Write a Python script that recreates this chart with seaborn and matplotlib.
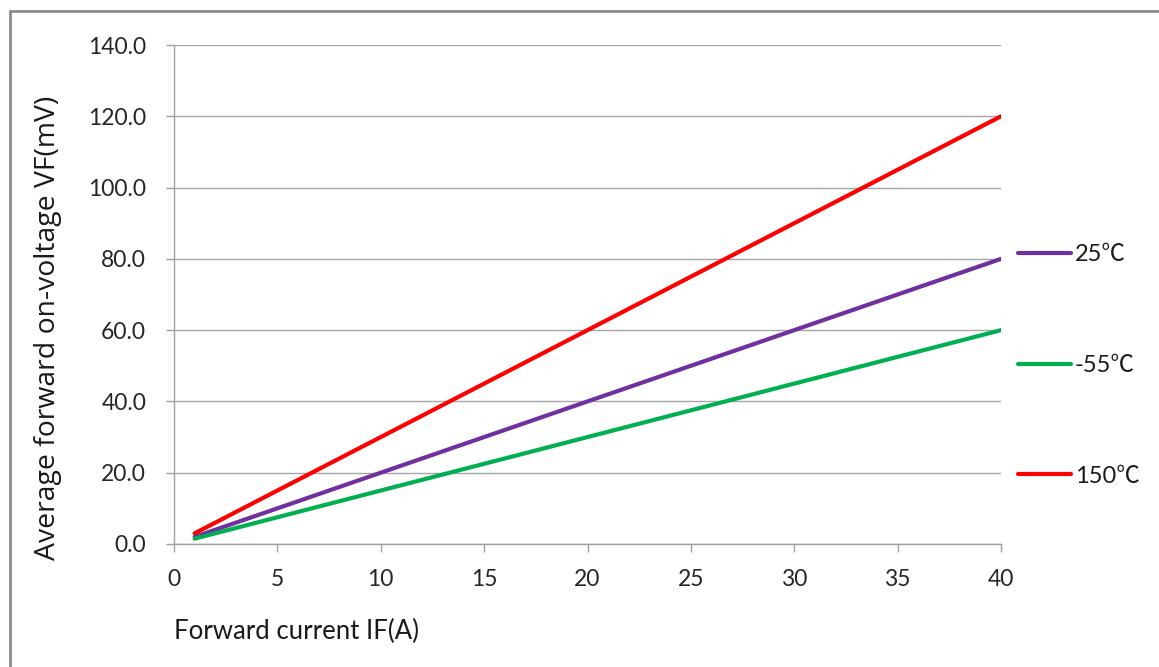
import matplotlib
matplotlib.use("Agg")
import matplotlib.pyplot as plt
from matplotlib.lines import Line2D
import seaborn as sns
import pandas as pd

# Forward current (A) sample points
current_a = [1, 5, 10, 15, 20, 25, 30, 35, 40]
# Average forward on-voltage (mV) per junction temperature
vf_25c = [2.0, 10.0, 20.0, 30.0, 40.0, 50.0, 60.0, 70.0, 80.0]
vf_m55c = [1.5, 7.5, 15.0, 22.5, 30.0, 37.5, 45.0, 52.5, 60.0]
vf_150c = [3.0, 15.0, 30.0, 45.0, 60.0, 75.0, 90.0, 105.0, 120.0]

series_names = ["25℃", "-55℃", "150℃"]
series_colors = ["#7030A0", "#00B050", "#FF0000"]
x_ticks = [0, 5, 10, 15, 20, 25, 30, 35, 40]
y_ticks = [0, 20, 40, 60, 80, 100, 120, 140]

df = pd.concat([
    pd.DataFrame({"IF": current_a, "VF": vals, "temp": name})
    for name, vals in zip(series_names, [vf_25c, vf_m55c, vf_150c])
])

sns.set_theme(style="white")
plt.rcParams["font.family"] = ["Lato", "Noto Sans CJK SC", "DejaVu Sans"]

fig = plt.figure(figsize=(11.59, 6.67), dpi=100)
ax = fig.add_axes([174 / 1159, 1 - 544 / 667, 827 / 1159, 499 / 667])

sns.lineplot(data=df, x="IF", y="VF", hue="temp", hue_order=series_names,
             palette=series_colors, linewidth=3.0, ax=ax, legend=True)

ax.set_xlim(0, 40)
ax.set_ylim(0, 140)
ax.set_xticks(x_ticks)
ax.set_yticks(y_ticks)
ax.set_yticklabels([f"{v:.1f}" for v in y_ticks])
ax.tick_params(axis="both", which="both", labelsize=16.5, colors="#262626",
               length=6, width=1, direction="out", bottom=True, left=True)
ax.tick_params(axis="x", pad=12, color="#a0a0a0")
ax.tick_params(axis="y", pad=14, color="#a0a0a0")

ax.grid(axis="y", color="#a6a6a6", linewidth=1)
ax.set_axisbelow(True)
for side in ["top", "right"]:
    ax.spines[side].set_visible(False)
for side in ["left", "bottom"]:
    ax.spines[side].set_color("#a0a0a0")
    ax.spines[side].set_linewidth(1)

ax.set_xlabel("Forward current IF(A)", fontsize=18.5, color="#1a1a1a", loc="left")
ax.xaxis.set_label_coords(0, -0.150)
ax.set_ylabel("Average forward on-voltage VF(mV)", fontsize=20.4, color="#1a1a1a",
              family=["Open Sans", "DejaVu Sans"])
ax.yaxis.set_label_coords(-0.135, 0.433)

leg = ax.legend(loc="upper left", bbox_to_anchor=(1.0095, 0.62), frameon=False,
                fontsize=17, handlelength=2.25, handletextpad=0.15,
                labelspacing=3.8, borderaxespad=0)
for h in leg.get_lines():
    h.set_linewidth(3.0)
    h.set_solid_capstyle("round")
for t in leg.get_texts():
    t.set_color("#1a1a1a")

# Outer chart frame
fig.add_artist(Line2D([10 / 1159, 10 / 1159], [0, 1 - 11 / 667],
                      transform=fig.transFigure, color="#8c8c8c", linewidth=2))
fig.add_artist(Line2D([10 / 1159, 1], [1 - 11 / 667, 1 - 11 / 667],
                      transform=fig.transFigure, color="#8c8c8c", linewidth=2))

fig.savefig("out.png", dpi=100)
